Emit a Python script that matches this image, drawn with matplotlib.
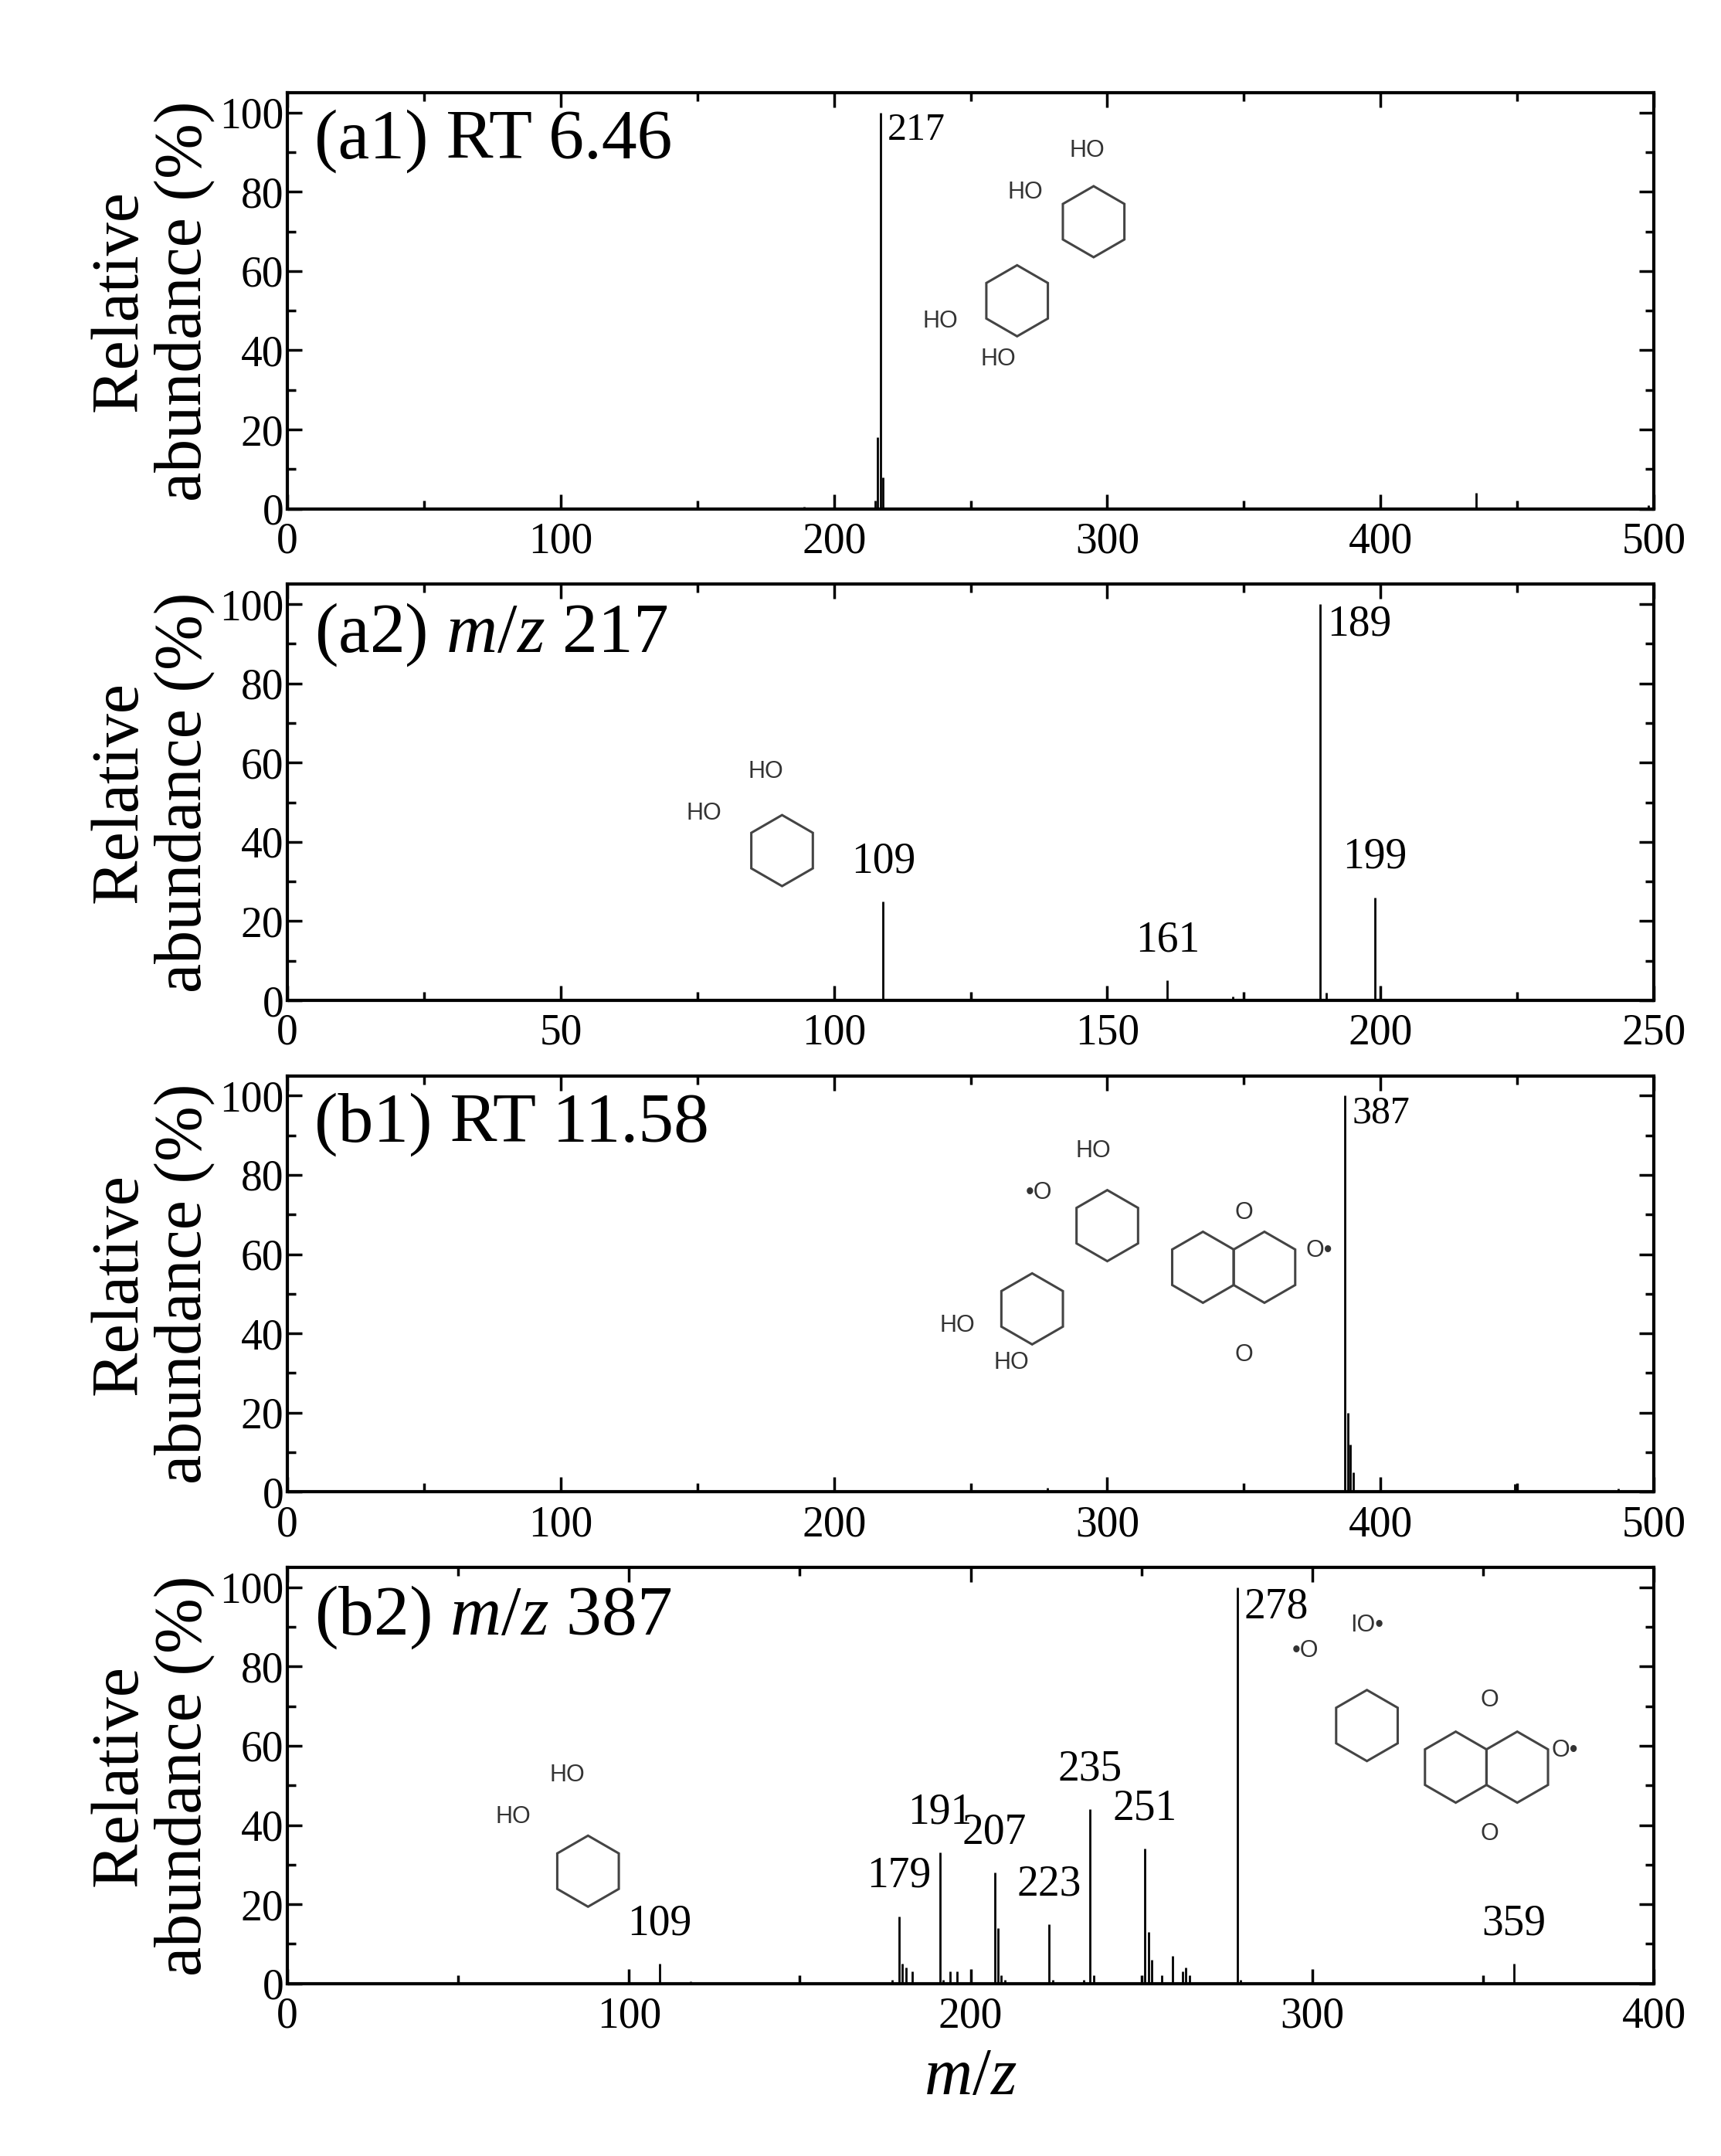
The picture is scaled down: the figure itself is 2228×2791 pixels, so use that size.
import matplotlib.pyplot as plt
import numpy as np
from matplotlib.patches import Polygon
from matplotlib.ticker import AutoMinorLocator

plt.rcParams["font.family"] = ["Liberation Serif", "DejaVu Serif"]
plt.rcParams["mathtext.fontset"] = "custom"
plt.rcParams["mathtext.it"] = "Liberation Serif:italic"
plt.rcParams["mathtext.rm"] = "Liberation Serif"

# peaks: (m/z, relative abundance)
a1_mz = [189, 215, 216, 217, 218, 435, 498]
a1_ab = [0.5, 2, 18, 100, 8, 4, 1]
a2_mz = [109, 161, 173, 189, 190, 199]
a2_ab = [25, 5, 1, 100, 2, 26]
b1_mz = [278, 387, 388, 389, 390, 449, 450, 487]
b1_ab = [1, 100, 20, 12, 5, 2, 1.5, 0.8]
b2_mz = [109, 118, 177, 179, 180, 181, 183, 191, 192, 194, 196, 207, 208, 209, 210,
         223, 224, 233, 235, 236, 251, 252, 253, 256, 259, 262, 263, 264, 278, 279, 359]
b2_ab = [5, 0.5, 1, 17, 5, 4, 3, 33, 1, 3, 3, 28, 14, 2, 1,
         15, 1, 1, 44, 2, 34, 13, 6, 2, 7, 3, 4, 2, 100, 1, 5]

# label style: "r" = right of peak top, "a" = above peak
panels = [
    ("(a1) RT 6.46", a1_mz, a1_ab, 500, 100, [(217, 100, "217", "r")]),
    ("(a2) $m/z$ 217", a2_mz, a2_ab, 250, 50,
     [(109, 25, "109", "a"), (161, 5, "161", "a"), (189, 100, "189", "r"), (199, 26, "199", "a")]),
    ("(b1) RT 11.58", b1_mz, b1_ab, 500, 100, [(387, 100, "387", "r")]),
    ("(b2) $m/z$ 387", b2_mz, b2_ab, 400, 100,
     [(109, 5, "109", "a"), (179, 17, "179", "a"), (191, 33, "191", "a"), (207, 28, "207", "a"),
      (223, 15, "223", "a"), (235, 44, "235", "a"), (251, 34, "251", "a"), (278, 100, "278", "r"),
      (359, 5, "359", "a")]),
]

fig = plt.figure(figsize=(22.28, 27.91), dpi=100)
bottoms = [0.764, 0.536, 0.308, 0.080]
h = 0.193
w = 0.794
aspect = (w * 22.28) / (h * 27.91)


def ring(ax, cx, cy, r, labels=()):
    ang = np.deg2rad(np.arange(6) * 60 + 30)
    pts = np.column_stack([cx + r * np.cos(ang), cy + r * aspect * np.sin(ang)])
    ax.add_patch(Polygon(pts, closed=True, transform=ax.transAxes, fill=False,
                         ec="#444444", lw=2.2))
    for (x, y, s) in labels:
        ax.text(x, y, s, transform=ax.transAxes, fontsize=22,
                family="Liberation Sans", color="#333333", ha="center", va="center")


for i, (title, mz, ab, xmax, xstep, labs) in enumerate(panels):
    ax = fig.add_axes([0.167, bottoms[i], w, h])
    ax.vlines(mz, 0, ab, color="black", lw=2)
    ax.set_xlim(0, xmax)
    ax.set_ylim(0, 105)
    ax.set_xticks(np.arange(0, xmax + 1, xstep))
    ax.set_yticks(np.arange(0, 101, 20))
    ax.xaxis.set_minor_locator(AutoMinorLocator(2))
    ax.yaxis.set_minor_locator(AutoMinorLocator(2))
    ax.tick_params(which="both", direction="in", top=True, right=True,
                   labelsize=40, width=2.5)
    ax.tick_params(which="major", length=14)
    ax.tick_params(which="minor", length=8)
    ax.tick_params(axis="x", pad=12)
    for s in ax.spines.values():
        s.set_linewidth(3)
    ax.set_ylabel("Relative\nabundance (%)", fontsize=62, linespacing=1.05, labelpad=4)
    ax.text(0.02, 0.96, title, transform=ax.transAxes, fontsize=66, va="top")
    small = i in (0, 2)
    for (x, y, s, mode) in labs:
        if mode == "r":
            ax.text(x + 2 * xmax / 400, y, s, fontsize=36 if small else 40,
                    va="top", ha="left")
        else:
            ax.text(x, y + 5, s, fontsize=40, va="bottom", ha="center")

    r = 0.026
    if i == 0:
        ring(ax, 0.534, 0.50, r, [(0.478, 0.45, "HO"), (0.52, 0.36, "HO")])
        ring(ax, 0.59, 0.69, r, [(0.54, 0.76, "HO"), (0.585, 0.86, "HO")])
    elif i == 1:
        ring(ax, 0.362, 0.36, r, [(0.305, 0.45, "HO"), (0.35, 0.55, "HO")])
    elif i == 2:
        ring(ax, 0.545, 0.44, r, [(0.49, 0.40, "HO"), (0.53, 0.31, "HO")])
        ring(ax, 0.6, 0.64, r, [(0.55, 0.72, "•O"), (0.59, 0.82, "HO")])
        ring(ax, 0.67, 0.54, r)
        ring(ax, 0.715, 0.54, r, [(0.70, 0.67, "O"), (0.755, 0.58, "O•"), (0.70, 0.33, "O")])
    else:
        ring(ax, 0.79, 0.62, r, [(0.745, 0.8, "•O"), (0.79, 0.86, "IO•")])
        ring(ax, 0.855, 0.52, r)
        ring(ax, 0.9, 0.52, r, [(0.88, 0.68, "O"), (0.935, 0.56, "O•"), (0.88, 0.36, "O")])
        ring(ax, 0.22, 0.27, r, [(0.165, 0.4, "HO"), (0.205, 0.5, "HO")])
        ax.set_xlabel("$m/z$", fontsize=62, labelpad=10)

fig.savefig("out.png", dpi=100)
